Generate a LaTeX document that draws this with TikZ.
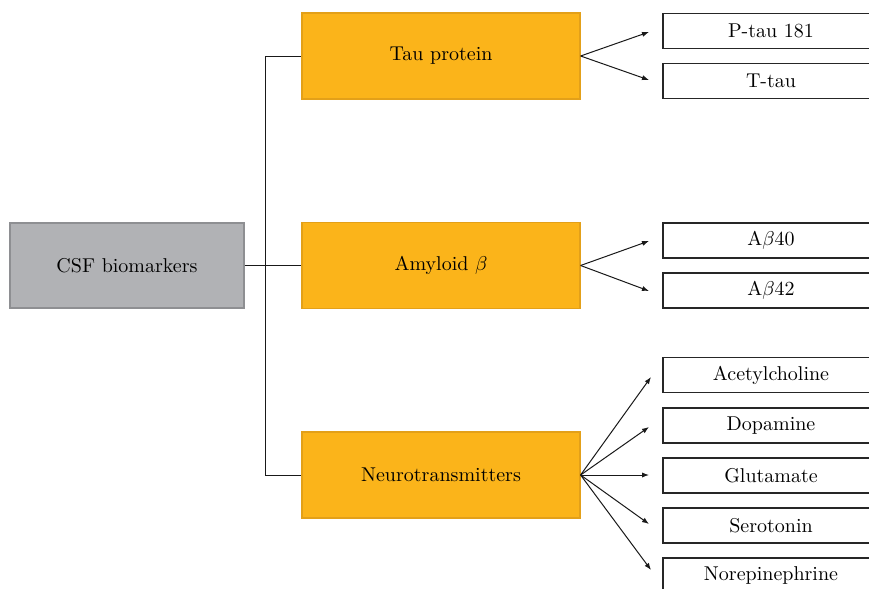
\documentclass[tikz,border=0pt]{standalone}
\usepackage{amsmath}
\usepackage{tikz}
\usetikzlibrary{calc}
\usetikzlibrary{arrows.meta}
\definecolor{csfgray}{HTML}{B1B2B5}
\definecolor{csfgrayline}{HTML}{8E8F92}
\definecolor{taucol}{HTML}{FBB41A}
\definecolor{taucolline}{HTML}{E3A019}
\tikzset{
  rootbox/.style={draw=csfgrayline, fill=csfgray, line width=0.6pt, minimum width=117pt, minimum height=42.5pt, inner sep=0pt},
  groupbox/.style={draw=taucolline, fill=taucol, line width=0.6pt, minimum width=139pt, minimum height=43pt, inner sep=0pt},
  leafbox/.style={draw=black!85, line width=0.55pt, minimum width=108pt, minimum height=17.5pt, inner sep=0pt},
  link/.style={line width=0.5pt, black!90},
  arr/.style={line width=0.5pt, black!90, -{Latex[length=3.5pt,width=2.6pt]}}
}
\begin{document}
\begin{tikzpicture}[x=0.5pt, y=-0.5pt]
  \clip (0,0) rectangle (869,589);
  \fill[white] (0,0) rectangle (869,589);

  \node[rootbox] (csf) at (127,265.5) {CSF biomarkers};

  \node[groupbox] (tau) at (441,56) {Tau protein};
  \node[groupbox] (amy) at (441,265.5) {Amyloid $\beta$};
  \node[groupbox] (neuro) at (441,475) {Neurotransmitters};

  \coordinate (jtop) at (265,56);
  \coordinate (jbot) at (265,475);

  \draw[link] (csf.east) -- (amy.west);
  \draw[link] (jtop) -- (jbot);
  \draw[link] (jtop) -- (tau.west);
  \draw[link] (jbot) -- (neuro.west);

  \node[leafbox] (ptau) at (771,31) {P-tau 181};
  \node[leafbox] (ttau) at (771,81) {T-tau};

  \node[leafbox] (ab40) at (771,240.5) {A$\beta$40};
  \node[leafbox] (ab42) at (771,290.5) {A$\beta$42};

  \node[leafbox] (ach) at (771,375) {Acetylcholine};
  \node[leafbox] (dopa) at (771,425.5) {Dopamine};
  \node[leafbox] (glu) at (771,475.5) {Glutamate};
  \node[leafbox] (sero) at (771,525.5) {Serotonin};
  \node[leafbox] (nore) at (771,575.5) {Norepinephrine};

  \coordinate (tptau) at (649,32);
  \coordinate (tttau) at (649,80);
  \coordinate (tab40) at (649,241);
  \coordinate (tab42) at (649,291);
  \coordinate (tach) at (651,377);
  \coordinate (tdopa) at (649,427);
  \coordinate (tglu) at (649,475);
  \coordinate (tsero) at (649,524);
  \coordinate (tnore) at (651,570);

  \draw[arr] (tau.east) -- (tptau);
  \draw[arr] (tau.east) -- (tttau);

  \draw[arr] (amy.east) -- (tab40);
  \draw[arr] (amy.east) -- (tab42);

  \draw[arr] (neuro.east) -- (tach);
  \draw[arr] (neuro.east) -- (tdopa);
  \draw[arr] (neuro.east) -- (tglu);
  \draw[arr] (neuro.east) -- (tsero);
  \draw[arr] (neuro.east) -- (tnore);

\end{tikzpicture}
\end{document}
